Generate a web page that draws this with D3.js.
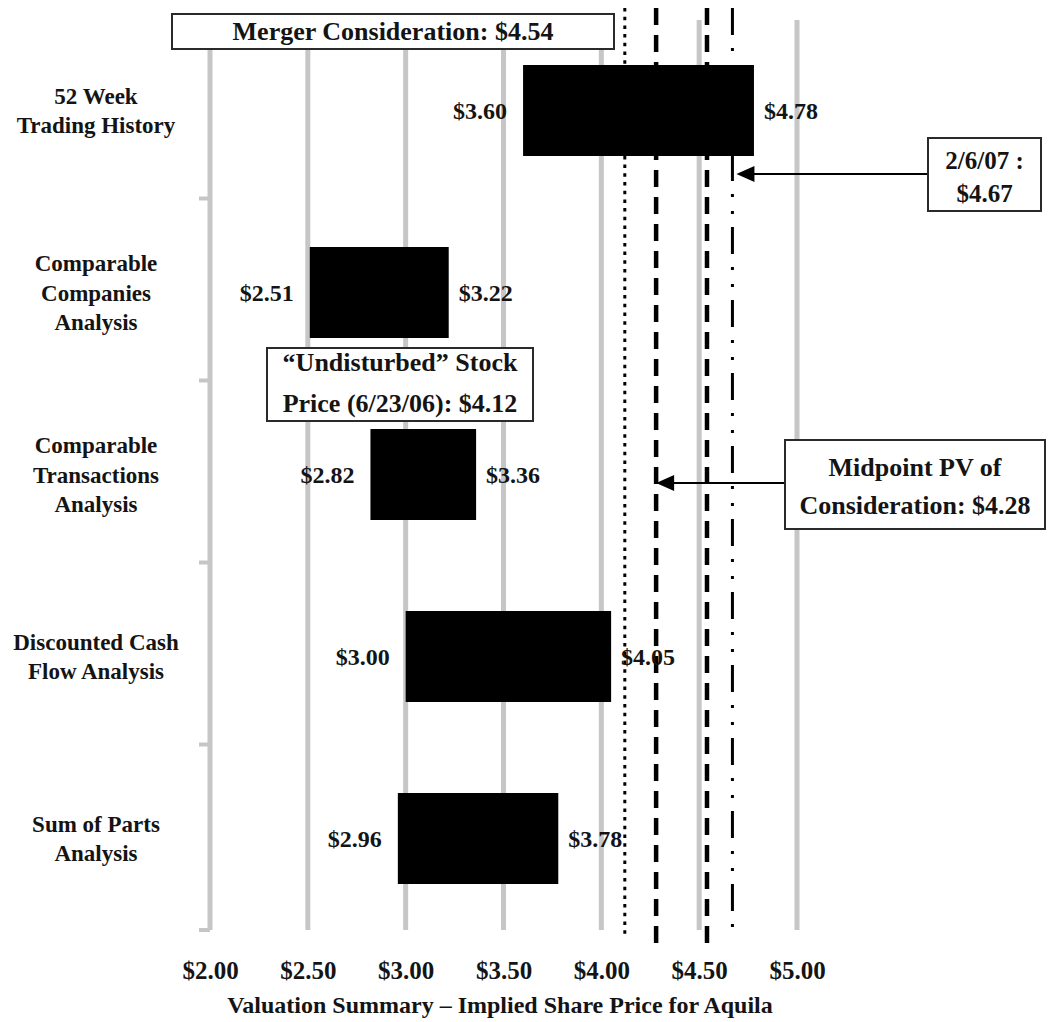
<!DOCTYPE html>
<html><head><meta charset="utf-8">
<script src="https://cdn.jsdelivr.net/npm/d3@7"></script>
<style>
body{margin:0;background:#fff}
text{font-family:"Liberation Serif","Times New Roman",serif;font-weight:bold;fill:#141414}
</style>
</head><body>
<svg id="c" width="1048" height="1022"></svg>
<script>
// ---- data ----
const categories = ["52 Week Trading History","Comparable Companies Analysis","Comparable Transactions Analysis","Discounted Cash Flow Analysis","Sum of Parts Analysis"];
const categoryLines = [["52 Week","Trading History"],["Comparable","Companies","Analysis"],["Comparable","Transactions","Analysis"],["Discounted Cash","Flow Analysis"],["Sum of Parts","Analysis"]];
const lowValues = [3.60, 2.51, 2.82, 3.00, 2.96];
const highValues = [4.78, 3.22, 3.36, 4.05, 3.78];
const tickValues = [2.00, 2.50, 3.00, 3.50, 4.00, 4.50, 5.00];
const refNames = ["Undisturbed","Midpoint","Merger","Current"];
const refValues = [4.12, 4.28, 4.54, 4.67];
const axisTitle = "Valuation Summary \u2013 Implied Share Price for Aquila";

// ---- scales ----
const svg = d3.select("#c");
const x = d3.scaleLinear().domain([2, 5]).range([210, 797]);
const y = d3.scaleBand().domain(categories).range([19.5, 929.5]).paddingInner(0.5).paddingOuter(0.25);
const fmt = v => "$" + v.toFixed(2);

// gridlines
const gTop = 20, gBot = 930;
svg.append("g").selectAll("line").data(tickValues).join("line")
  .attr("x1", d => x(d)).attr("x2", d => x(d))
  .attr("y1", gTop).attr("y2", gBot)
  .attr("stroke", "#c6c6c6").attr("stroke-width", 5);

// left axis ticks at band boundaries
const bounds = categories.map(c => y(c) + y.bandwidth() + y.step() * 0.25 - 3);
bounds[bounds.length - 1] = gBot;
svg.append("g").selectAll("line").data(bounds).join("line")
  .attr("x1", x(2) - 11).attr("x2", x(2))
  .attr("y1", d => d).attr("y2", d => d)
  .attr("stroke", "#c6c6c6").attr("stroke-width", 4);

// bars
svg.append("g").selectAll("rect").data(categories).join("rect")
  .attr("x", (c, i) => x(lowValues[i]))
  .attr("width", (c, i) => x(highValues[i]) - x(lowValues[i]))
  .attr("y", c => y(c)).attr("height", y.bandwidth())
  .attr("fill", "#000");

// reference lines
const refStyle = {
  Undisturbed: {w: 3, dash: "3.5,5.2", y1: 8, y2: 935},
  Midpoint: {w: 4.5, dash: "17,10", y1: 8, y2: 952},
  Merger: {w: 4.5, dash: "17,10", y1: 8, y2: 952},
  Current: {w: 3, dash: "27,13,3,14,3,13", y1: 8, y2: 937}
};
svg.append("g").selectAll("line").data(refNames).join("line")
  .attr("x1", (n, i) => x(refValues[i])).attr("x2", (n, i) => x(refValues[i]))
  .attr("y1", n => refStyle[n].y1).attr("y2", n => refStyle[n].y2)
  .attr("stroke", "#000").attr("stroke-width", n => refStyle[n].w)
  .attr("stroke-dasharray", n => refStyle[n].dash);

// category labels
const cl = svg.append("g");
categories.forEach((c, i) => {
  const lines = categoryLines[i];
  const cy = y(c) + y.bandwidth() / 2;
  const lh = 29.5;
  const t = cl.append("text").attr("text-anchor", "middle").attr("font-size", 23);
  lines.forEach((l, j) => {
    t.append("tspan").attr("x", 96)
      .attr("y", cy + (j - (lines.length - 1) / 2) * lh + 8).text(l);
  });
});

// value labels
const vl = svg.append("g");
categories.forEach((c, i) => {
  const cy = y(c) + y.bandwidth() / 2 + 8;
  vl.append("text").attr("x", x(lowValues[i]) - 16).attr("y", cy).attr("text-anchor", "end").attr("font-size", 24).text(fmt(lowValues[i]));
  vl.append("text").attr("x", x(highValues[i]) + 10).attr("y", cy).attr("text-anchor", "start").attr("font-size", 24).text(fmt(highValues[i]));
});

// x tick labels
const xa = svg.append("g").attr("transform", "translate(0,955)")
  .call(d3.axisBottom(x).tickValues(tickValues).tickFormat(fmt).tickSize(0).tickPadding(0));
xa.select(".domain").remove();
xa.selectAll("text").attr("font-size", 25).attr("dy", "0").attr("y", 24)
  .style("font-family", '"Liberation Serif","Times New Roman",serif').style("font-weight", "bold").attr("fill", "#141414");

svg.append("text").attr("x", 500).attr("y", 1013).attr("text-anchor", "middle").attr("font-size", 24).text(axisTitle);

// annotation boxes
function box(x0, y0, x1, y1, lines, size, baseY, lh) {
  const g = svg.append("g");
  g.append("rect").attr("x", x0).attr("y", y0).attr("width", x1 - x0).attr("height", y1 - y0)
    .attr("fill", "#fff").attr("stroke", "#2a2a2a").attr("stroke-width", 2);
  const t = g.append("text").attr("text-anchor", "middle").attr("font-size", size);
  lines.forEach((l, j) => t.append("tspan").attr("x", (x0 + x1) / 2).attr("y", baseY + j * lh).text(l));
}
function arrow(xTip, yA, xStart) {
  const g = svg.append("g");
  g.append("line").attr("x1", xStart).attr("x2", xTip + 10).attr("y1", yA).attr("y2", yA)
    .attr("stroke", "#000").attr("stroke-width", 2);
  g.append("path").attr("d", `M${xTip},${yA} L${xTip + 18},${yA - 8} L${xTip + 18},${yA + 8} Z`).attr("fill", "#000");
}

box(172, 14, 614, 49, ["Merger Consideration: " + fmt(refValues[2])], 26, 40, 0);
arrow(x(refValues[3]) + 4, 174, 928);
box(928, 138, 1041, 211, ["2/6/07 :", fmt(refValues[3])], 25, 169, 33);
box(267, 348, 533, 421, ["\u201cUndisturbed\u201d Stock", "Price (6/23/06): " + fmt(refValues[0])], 26, 371, 41);
arrow(x(refValues[1]), 483, 785);
box(785, 440, 1045, 529, ["Midpoint PV of", "Consideration: " + fmt(refValues[1])], 26, 476, 38);
</script>
</body></html>
